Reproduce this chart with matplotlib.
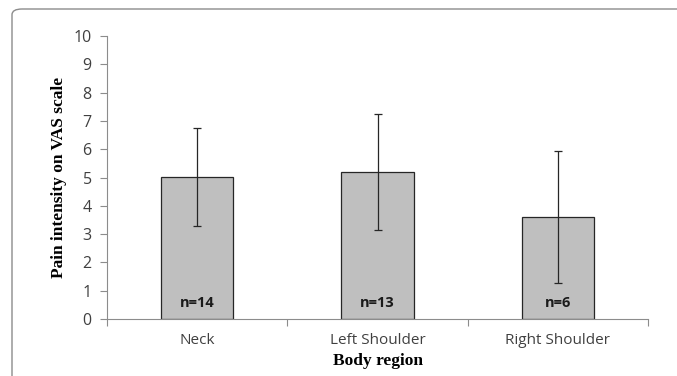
import matplotlib.pyplot as plt
from matplotlib.patches import FancyBboxPatch

regions = ['Neck', 'Left Shoulder', 'Right Shoulder']
pain_mean = [5.02, 5.19, 3.60]
pain_err = [1.72, 2.05, 2.34]
n_labels = ['n=14', 'n=13', 'n=6']

# ---------- figure ----------
fig = plt.figure(figsize=(6.77, 3.76), dpi=100)
fig.patches.append(FancyBboxPatch((12/677, -0.2), 1.0, 1 - 9/376 + 0.2,
                                  boxstyle='round,pad=0,rounding_size=0.015',
                                  transform=fig.transFigure, fill=False,
                                  edgecolor='#8c8c8c', lw=1.0))
ax = fig.add_axes([107/677, 57/376, 541/677, 283/376])

x = range(len(regions))
ax.bar(x, pain_mean, width=0.4, color='#bfbfbf', edgecolor='#262626', lw=0.9,
       yerr=pain_err, error_kw=dict(ecolor='#262626', elinewidth=0.9, capsize=3, capthick=0.9))
for i, t in zip(x, n_labels):
    ax.text(i, 0.55, t, ha='center', va='center', fontsize=10.5, fontweight='bold',
            family='Open Sans', color='#1a1a1a')

ax.set_xlim(-0.5, 2.5); ax.set_ylim(0, 10)
ax.set_yticks(range(11))
ax.set_xticks([-0.5, 0.5, 1.5, 2.5], minor=False)
ax.set_xticklabels([])
ax.set_xticks(list(x), minor=True)
ax.set_xticklabels(regions, minor=True)
ax.tick_params(axis='x', which='minor', length=0, pad=10, labelsize=11, labelcolor='#404040')
ax.tick_params(axis='x', which='major', length=5, color='#8c8c8c')
ax.tick_params(axis='y', length=5, color='#8c8c8c', labelsize=11.5, labelcolor='#404040', pad=6)
for lab in ax.get_xticklabels(minor=True) + ax.get_yticklabels():
    lab.set_family('Open Sans')
for s in ['top', 'right']:
    ax.spines[s].set_visible(False)
for s in ['left', 'bottom']:
    ax.spines[s].set_color('#8c8c8c')

ax.set_xlabel('Body region', family='Liberation Serif', fontweight='bold', fontsize=12.5, labelpad=4)
ax.set_ylabel('Pain intensity on VAS scale', family='Liberation Serif', fontweight='bold',
              fontsize=12.5, labelpad=5)

fig.savefig('out.png', dpi=100)
